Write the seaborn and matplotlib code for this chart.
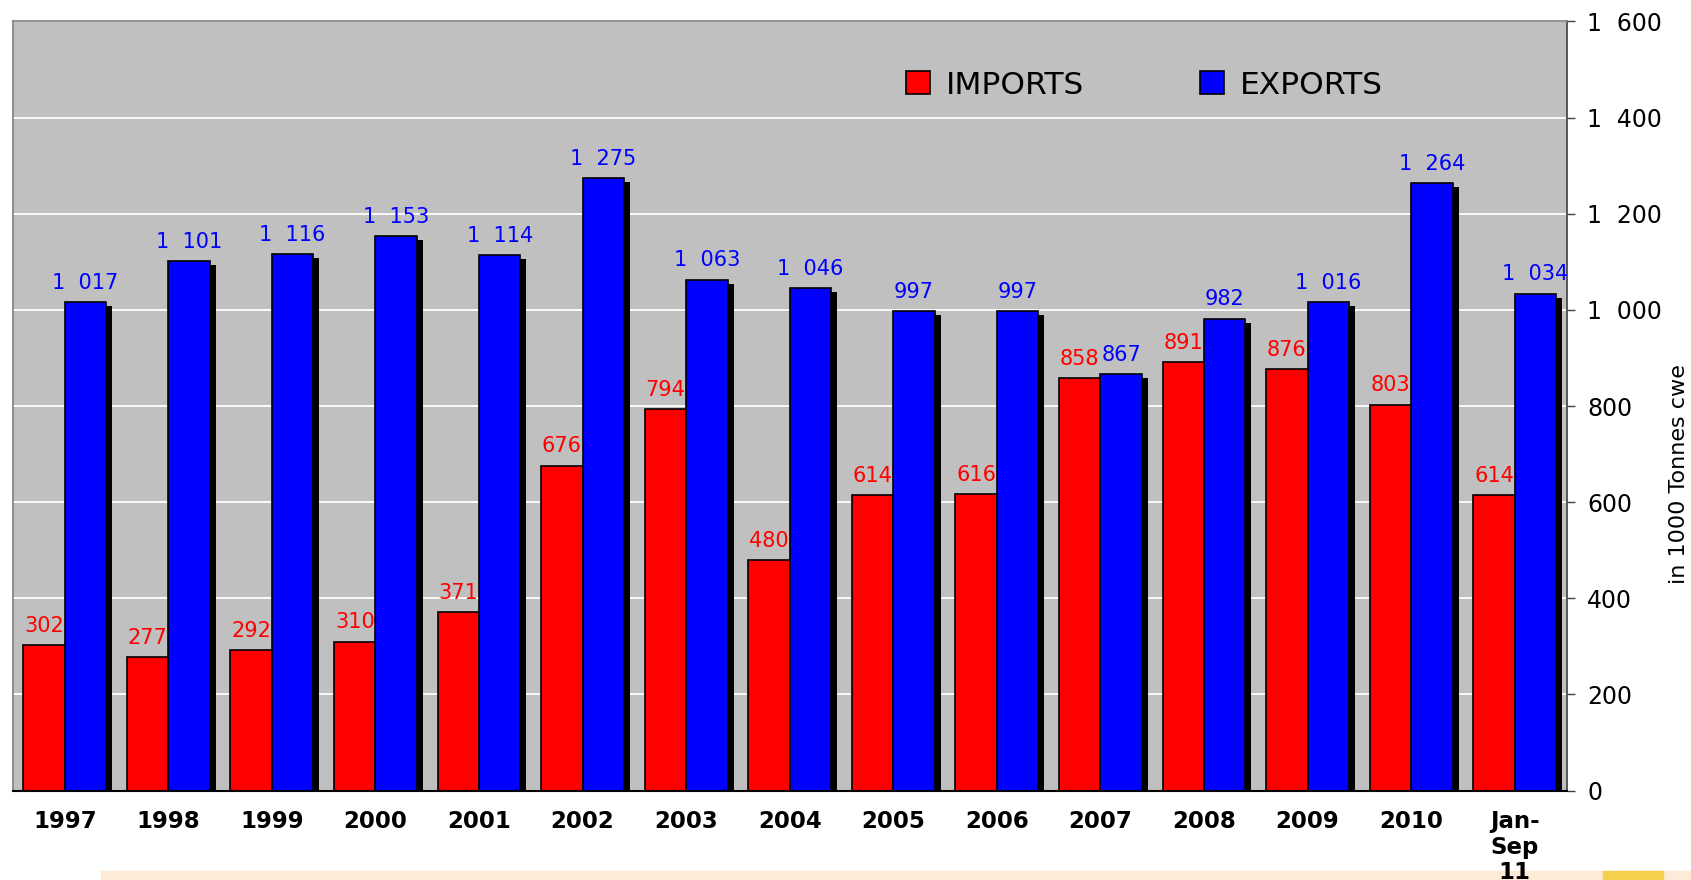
import pandas as pd
import matplotlib
matplotlib.use("Agg")
import matplotlib.pyplot as plt
import matplotlib.ticker as mticker
import matplotlib.transforms as mtransforms
from matplotlib.patches import Patch, Rectangle
import seaborn as sns

# Data (1000 tonnes cwe)
years = ["1997", "1998", "1999", "2000", "2001", "2002", "2003", "2004",
         "2005", "2006", "2007", "2008", "2009", "2010", "Jan-\nSep\n11"]
imports = [302, 277, 292, 310, 371, 676, 794, 480, 614, 616, 858, 891, 876, 803, 614]
exports = [1017, 1101, 1116, 1153, 1114, 1275, 1063, 1046, 997, 997, 867, 982, 1016, 1264, 1034]
y_ticks = [0, 200, 400, 600, 800, 1000, 1200, 1400, 1600]

df = pd.DataFrame({
    "year": years * 2,
    "value": imports + exports,
    "flow": ["IMPORTS"] * len(years) + ["EXPORTS"] * len(years),
})
colors = {"IMPORTS": "#FF0000", "EXPORTS": "#0000FF"}


def fmt(v):
    # thousands separated by a wide space, e.g. "1  017"
    return f"{int(v):,}".replace(",", "  ")


sns.set_style("white")
plt.rcParams["font.family"] = ["DejaVu Sans"]
plt.rcParams["text.color"] = "black"
plt.rcParams["xtick.labelcolor"] = "black"
plt.rcParams["ytick.labelcolor"] = "black"

fig = plt.figure(figsize=(16.91, 8.8), dpi=100)
ax = fig.add_axes([13 / 1691, 1 - 790.5 / 880, 1553.5 / 1691, 769 / 880])
ax.set_facecolor("#C0C0C0")

# light strip along the bottom of the page
fig.patches.append(Rectangle((101 / 1691, 0), 1 - 101 / 1691, 9.5 / 880,
                             transform=fig.transFigure, color="#FDEBD8", zorder=-5))
fig.patches.append(Rectangle((1603 / 1691, 0), 60 / 1691, 9.5 / 880,
                             transform=fig.transFigure, color="#F7CF4F", zorder=-4))

sns.barplot(data=df, x="year", y="value", hue="flow", palette=colors,
            saturation=1, width=0.8, edgecolor="black", linewidth=1.2,
            legend=False, ax=ax)

# black drop shadow: 6 px right, 4 px down
shadow_tr = ax.transData + mtransforms.ScaledTranslation(6 / 100, -4 / 100, fig.dpi_scale_trans)

bars = [(cont, vals, colors[k]) for cont, vals, k in
        zip(list(ax.containers), [imports, exports], ["IMPORTS", "EXPORTS"])]
for cont, vals, col in bars:
    for bar, v in zip(cont, vals):
        ax.add_patch(Rectangle((bar.get_x(), 0), bar.get_width(), v,
                               transform=shadow_tr, facecolor="black",
                               edgecolor="none", zorder=bar.get_zorder() - 0.01))
        ax.annotate(fmt(v), (bar.get_x() + bar.get_width() / 2, v),
                    xytext=(0, 9.5), textcoords="offset points",
                    ha="center", va="baseline", color=col, fontsize=15)

ax.set_xlim(-0.5, len(years) - 0.5)
ax.set_ylim(0, 1600)
ax.set_axisbelow(True)
ax.yaxis.grid(True, color="white", linewidth=1.3)
ax.xaxis.grid(False)

# y axis on the right
ax.yaxis.tick_right()
ax.set_yticks(y_ticks)
ax.yaxis.set_major_formatter(mticker.FuncFormatter(lambda v, p: fmt(v)))
ax.tick_params(axis="y", direction="out", length=6, width=1, color="#404040",
               labelsize=17, pad=9, labelcolor="black")

# x axis: labels under groups, ticks on the group boundaries
ax.set_xticks(range(len(years)))
ax.set_xticklabels(years, fontweight="bold", fontsize=16.5, linespacing=1.15, color="black")
ax.set_xticks([i - 0.5 for i in range(len(years) + 1)], minor=True)
ax.tick_params(axis="x", which="major", length=0, pad=14)
ax.tick_params(axis="x", which="minor", direction="out", length=5, width=1, color="#404040")
ax.set_xlabel("")
ax.set_ylabel("")

for side in ["left", "top"]:
    ax.spines[side].set_color("#808080")
    ax.spines[side].set_linewidth(1.2)
ax.spines["bottom"].set_color("black")
ax.spines["bottom"].set_linewidth(1.5)
ax.spines["right"].set_color("#404040")
ax.spines["right"].set_linewidth(1.2)

fig.text(1679 / 1691, 1 - 474 / 880, "in 1000 Tonnes cwe", rotation=90,
         ha="center", va="center", fontsize=16, color="black")

handles = [Patch(facecolor=colors[k], edgecolor="black", linewidth=1.2) for k in ["IMPORTS", "EXPORTS"]]
leg = ax.legend(handles, ["IMPORTS", "EXPORTS"], ncol=2, frameon=False,
                loc="center left", bbox_to_anchor=((906 - 13) / 1553.5, 1 - (85 - 21.5) / 769),
                borderpad=0, borderaxespad=0, fontsize=22.5, handlelength=0.78,
                handleheight=0.78, handletextpad=0.5, columnspacing=3.7)
for t in leg.get_texts():
    t.set_color("black")

fig.savefig("out.png", dpi=100)
